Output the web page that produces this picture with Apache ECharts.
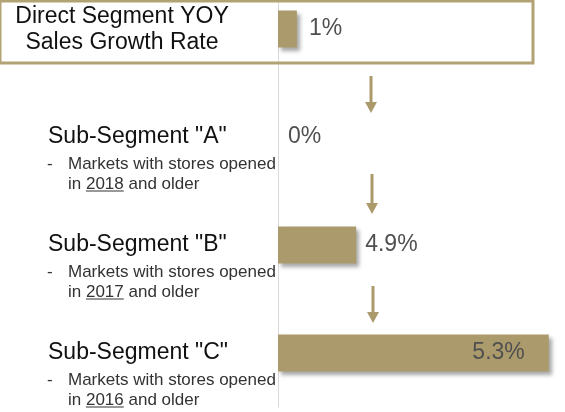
<!DOCTYPE html>
<html><head><meta charset="utf-8">
<script src="https://cdn.jsdelivr.net/npm/echarts@6/dist/echarts.min.js"></script>
<style>html,body{margin:0;padding:0;background:#fff}#c{width:565px;height:412px}</style>
</head><body><div id="c"></div>
<script>
// Data
const categories = ['Direct Segment YOY\nSales Growth Rate', 'Sub-Segment "A"', 'Sub-Segment "B"', 'Sub-Segment "C"'];
const growthLabels = ['1%', '0%', '4.9%', '5.3%'];
const barLengths = [0.37, 0, 1.53, 5.3];   // visual bar lengths as drawn in the reference
const noteYears = ['', '2018', '2017', '2016'];
const noteText = 'Markets with stores opened';

const TAN = '#ab9b6c';
const FONT = '"Liberation Sans", Arial, sans-serif';
const labelCfg = [
  { position: 'right', distance: 12 },
  { position: 'right', distance: 10 },
  { position: 'right', distance: 9 },
  { position: 'insideRight', distance: 24 }
];

const chart = echarts.init(document.getElementById('c'), null, { renderer: 'canvas' });
chart.setOption({
  animation: false,
  backgroundColor: '#fff',
  grid: { left: 278, right: 6, top: -25, bottom: 5, containLabel: false, outerBoundsMode: 'none' },
  xAxis: { type: 'value', min: 0, max: 5.5, show: false, splitLine: { show: false } },
  yAxis: {
    type: 'category', data: categories, inverse: true,
    axisLine: { show: true, lineStyle: { color: '#d9d9d9', width: 1 } },
    axisTick: { show: false }, axisLabel: { show: false }, splitLine: { show: false }
  },
  series: [{
    type: 'bar',
    barWidth: 37,
    data: barLengths.map((v, i) => ({
      value: v,
      label: Object.assign({
        show: true,
        formatter: () => growthLabels[i],
        color: '#505050',
        fontSize: 23,
        fontFamily: FONT
      }, labelCfg[i])
    })),
    itemStyle: {
      color: TAN,
      shadowBlur: 4,
      shadowColor: 'rgba(0,0,0,0.35)',
      shadowOffsetX: 3,
      shadowOffsetY: 3
    }
  }]
});

// measure text widths for underline placement
const ctx = document.createElement('canvas').getContext('2d');
function tw(s, size) { ctx.font = size + 'px ' + FONT; return ctx.measureText(s).width; }

const rowY = categories.map(c => chart.convertToPixel({ yAxisIndex: 0 }, c));
const g = [];
// top box
g.push({ type: 'rect', silent: true, z: 1, shape: { x: 0, y: 1, width: 533, height: 62 },
  style: { fill: 'none', stroke: '#b2a374', lineWidth: 3 } });
g.push({ type: 'text', z: 5, x: 122, y: rowY[0] + 1,
  style: { text: categories[0], font: '23px ' + FONT, fill: '#111', align: 'center', verticalAlign: 'middle', lineHeight: 26 } });
for (let i = 1; i < categories.length; i++) {
  const y = rowY[i];
  g.push({ type: 'text', z: 5, x: 48, y: y,
    style: { text: categories[i], font: '23px ' + FONT, fill: '#111', align: 'left', verticalAlign: 'middle' } });
  g.push({ type: 'text', z: 5, x: 47, y: y + 27,
    style: { text: '-', font: '17px ' + FONT, fill: '#333', align: 'left', verticalAlign: 'middle' } });
  g.push({ type: 'text', z: 5, x: 68, y: y + 27,
    style: { text: noteText, font: '17px ' + FONT, fill: '#333', align: 'left', verticalAlign: 'middle' } });
  g.push({ type: 'text', z: 5, x: 68, y: y + 47,
    style: { text: 'in ' + noteYears[i] + ' and older', font: '17px ' + FONT, fill: '#333', align: 'left', verticalAlign: 'middle' } });
  const ux = 68 + tw('in ', 17), uw = tw(noteYears[i], 17);
  g.push({ type: 'line', z: 5, shape: { x1: ux, y1: y + 54, x2: ux + uw, y2: y + 54 },
    style: { stroke: '#333', lineWidth: 1 } });
}
// arrows between rows
const arrows = [[371, 76, 113], [372, 174, 214], [373, 286, 323]];
arrows.forEach(([x, y1, y2]) => {
  g.push({ type: 'line', z: 5, shape: { x1: x, y1: y1, x2: x, y2: y2 - 8 }, style: { stroke: TAN, lineWidth: 3 } });
  g.push({ type: 'polygon', z: 5, shape: { points: [[x - 6, y2 - 11], [x + 6, y2 - 11], [x, y2]] }, style: { fill: TAN } });
});
chart.setOption({ graphic: g });
</script>
</body></html>
